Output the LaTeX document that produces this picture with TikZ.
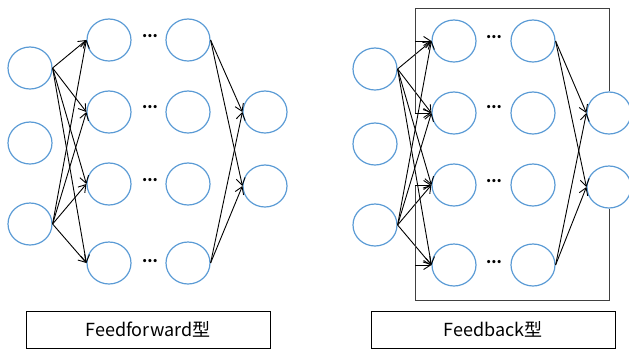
\documentclass[tikz,border=0pt]{standalone}
\usepackage{fontspec}
\setmainfont{Noto Sans CJK JP}
\usepackage{tikz}
\usetikzlibrary{arrows, arrows.meta, shapes.geometric}
\definecolor{cellblue}{HTML}{5B9BD5}
\tikzset{
  neuron/.style={ellipse, draw=cellblue, line width=1.2pt, minimum width=44pt, minimum height=42pt, inner sep=0pt},
  link/.style={-{Straight Barb[length=7pt,width=9pt]}, line width=0.9pt},
  loopline/.style={line width=1pt, black!75},
  skipdots/.style={inner sep=0pt, font=\fontsize{15}{15}\selectfont\bfseries},
  caption/.style={draw, line width=0.8pt, minimum width=244pt, minimum height=37pt, inner sep=0pt, font=\fontsize{18}{20}\selectfont}
}

\begin{document}
\begin{tikzpicture}[x=1pt, y=-1pt]
    \useasboundingbox (0,0) rectangle (629,349);

    % Feedforward
    \node[neuron] (a_1) at (30,68) {};
    \node[neuron] (a_2) at (30,143) {};
    \node[neuron] (a_3) at (30,224) {};

    \node[neuron] (b_1) at (109,40) {};
    \node[neuron] (b_2) at (109,112) {};
    \node[neuron] (b_3) at (109,184) {};
    \node[neuron] (b_4) at (109,263) {};

    \node[neuron] (c_1) at (188,40) {};
    \node[neuron] (c_2) at (188,112) {};
    \node[neuron] (c_3) at (188,184) {};
    \node[neuron] (c_4) at (188,263) {};

    \node[neuron] (d_1) at (265,112) {};
    \node[neuron] (d_2) at (265,186) {};

    \node[skipdots] (e_1) at (150,36.5) {...};
    \node[skipdots] (e_2) at (150,107.5) {...};
    \node[skipdots] (e_3) at (150,180.5) {...};
    \node[skipdots] (e_4) at (150,261.5) {...};

    \draw[link] (a_1.east) -- (b_1.west);
    \draw[link] (a_1.east) -- (b_2.west);
    \draw[link] (a_1.east) -- (b_3.west);
    \draw[link] (a_1.east) -- (b_4.west);
    \draw[link] (a_3.east) -- (b_1.west);
    \draw[link] (a_3.east) -- (b_2.west);
    \draw[link] (a_3.east) -- (b_3.west);
    \draw[link] (a_3.east) -- (b_4.west);
    \draw[link] (c_1.east) -- (d_1.west);
    \draw[link] (c_1.east) -- (d_2.west);
    \draw[link] (c_4.east) -- (d_1.west);
    \draw[link] (c_4.east) -- (d_2.west);

    \node[caption] (f_1) at (148,329.5) {Feedforward型};

    % Feedback
    \node[neuron] (p_1) at (375,69) {};
    \node[neuron] (p_2) at (375,144) {};
    \node[neuron] (p_3) at (375,225) {};

    \node[neuron] (q_1) at (454,41) {};
    \node[neuron] (q_2) at (454,113) {};
    \node[neuron] (q_3) at (454,185) {};
    \node[neuron] (q_4) at (454,265) {};

    \node[neuron] (r_1) at (533,41) {};
    \node[neuron] (r_2) at (533,113) {};
    \node[neuron] (r_3) at (533,185) {};
    \node[neuron] (r_4) at (533,265) {};

    \node[neuron] (s_1) at (609,113) {};
    \node[neuron] (s_2) at (609,187) {};

    \node[skipdots] (u_1) at (494,37.5) {...};
    \node[skipdots] (u_2) at (494,107.5) {...};
    \node[skipdots] (u_3) at (494,181.5) {...};
    \node[skipdots] (u_4) at (494,262.5) {...};

    \draw[link] (p_1.east) -- (q_1.west);
    \draw[link] (p_1.east) -- (q_2.west);
    \draw[link] (p_1.east) -- (q_3.west);
    \draw[link] (p_1.east) -- (q_4.west);
    \draw[link] (p_3.east) -- (q_1.west);
    \draw[link] (p_3.east) -- (q_2.west);
    \draw[link] (p_3.east) -- (q_3.west);
    \draw[link] (p_3.east) -- (q_4.west);
    \draw[link] (r_1.east) -- (s_1.west);
    \draw[link] (r_1.east) -- (s_2.west);
    \draw[link] (r_4.east) -- (s_1.west);
    \draw[link] (r_4.east) -- (s_2.west);

    % return paths
    \coordinate (t_1) at (415,8);
    \coordinate (t_2) at (415,300);
    \coordinate (k_1) at (415,41);
    \coordinate (k_2) at (415,113);
    \coordinate (k_3) at (415,185);
    \coordinate (k_4) at (415,265);
    \draw[loopline] (s_1.north) |- (t_1) -- (k_2);
    \draw[loopline] (s_2.south) |- (t_2) -- (k_3);
    \draw[link] (k_1) -- (q_1.west);
    \draw[link] (k_2) -- (q_2.west);
    \draw[link] (k_3) -- (q_3.west);
    \draw[link] (k_4) -- (q_4.west);

    \node[caption] (f_2) at (493,329.5) {Feedback型};
\end{tikzpicture}
\end{document}
